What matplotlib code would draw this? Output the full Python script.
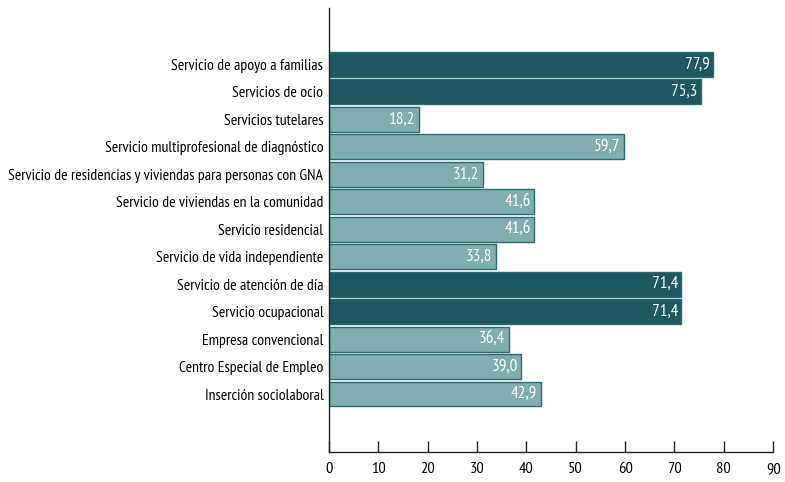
import matplotlib
matplotlib.use("Agg")
import matplotlib.pyplot as plt

categorias = [
    "Servicio de apoyo a familias",
    "Servicios de ocio",
    "Servicios tutelares",
    "Servicio multiprofesional de diagnóstico",
    "Servicio de residencias y viviendas para personas con GNA",
    "Servicio de viviendas en la comunidad",
    "Servicio residencial",
    "Servicio de vida independiente",
    "Servicio de atención de día",
    "Servicio ocupacional",
    "Empresa convencional",
    "Centro Especial de Empleo",
    "Inserción sociolaboral",
]
valores = [77.9, 75.3, 18.2, 59.7, 31.2, 41.6, 41.6, 33.8, 71.4, 71.4, 36.4, 39.0, 42.9]
destacado = [True, True, False, False, False, False, False, False, True, True, False, False, False]
etiquetas_x = [0, 10, 20, 30, 40, 50, 60, 70, 80, 90]

plt.rcParams["font.family"] = ["PT Sans Narrow", "Fira Sans Condensed", "DejaVu Sans"]

oscuro = "#1d5862"
claro = "#80adae"
borde = "#2b6a72"

fig = plt.figure(figsize=(7.85, 4.82), dpi=100)
ax = fig.add_axes([0.419, 0.062, 0.566, 0.921])

pos = list(range(len(categorias)))
colores = [oscuro if d else claro for d in destacado]
ax.barh(pos, valores, height=0.9, color=colores, edgecolor=borde, linewidth=1)

# etiquetas de valor dentro de la barra
for p, v in zip(pos, valores):
    ax.text(v - 0.7, p, f"{v:.1f}".replace(".", ","), ha="right", va="center",
            color="white", fontsize=12.3)

ax.set_xlim(0, 90)
ax.set_ylim(14.11, -2.04)
ax.set_yticks(pos)
ax.set_yticklabels(categorias, fontsize=11.3)
ax.set_xticks(etiquetas_x)
ax.set_xticklabels([str(t) for t in etiquetas_x], fontsize=11.8)
ax.tick_params(axis="y", length=0, pad=4)
ax.tick_params(axis="x", direction="in", length=8, width=1, pad=7, color="#222222")
for s in ["top", "right"]:
    ax.spines[s].set_visible(False)
for s in ["left", "bottom"]:
    ax.spines[s].set_color("#222222")
    ax.spines[s].set_linewidth(1)

fig.savefig("out.png", dpi=100)
